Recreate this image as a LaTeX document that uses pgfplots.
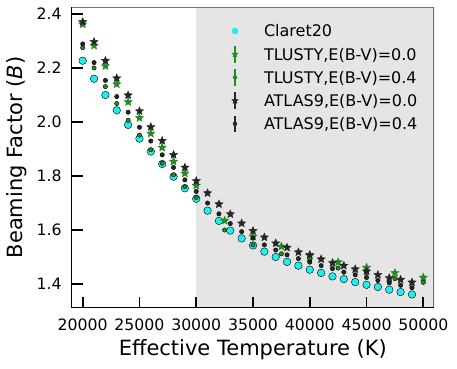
\documentclass[border=0pt]{standalone}
\usepackage{fontspec}
\setmainfont{DejaVu Sans}
\usepackage{pgfplots}
\pgfplotsset{compat=1.18}
\definecolor{cyanc}{RGB}{30,238,238}
\definecolor{fgreen}{RGB}{34,139,34}
\definecolor{dk}{RGB}{38,38,38}
\definecolor{bgshade}{RGB}{229,229,229}
\pgfdeclareplotmark{fstar}{%
  \pgfpathmoveto{\pgfqpointpolar{90}{\pgfplotmarksize}}%
  \pgfpathlineto{\pgfqpointpolar{126}{0.45\pgfplotmarksize}}%
  \pgfpathlineto{\pgfqpointpolar{162}{\pgfplotmarksize}}%
  \pgfpathlineto{\pgfqpointpolar{198}{0.45\pgfplotmarksize}}%
  \pgfpathlineto{\pgfqpointpolar{234}{\pgfplotmarksize}}%
  \pgfpathlineto{\pgfqpointpolar{270}{0.45\pgfplotmarksize}}%
  \pgfpathlineto{\pgfqpointpolar{306}{\pgfplotmarksize}}%
  \pgfpathlineto{\pgfqpointpolar{342}{0.45\pgfplotmarksize}}%
  \pgfpathlineto{\pgfqpointpolar{18}{\pgfplotmarksize}}%
  \pgfpathlineto{\pgfqpointpolar{54}{0.45\pgfplotmarksize}}%
  \pgfpathclose
  \pgfusepathqfillstroke}
\begin{document}
\begin{tikzpicture}
\useasboundingbox (-71.7pt,-60.3pt) rectangle (385.3pt,307.7pt);
\begin{axis}[
  at={(0,0)}, anchor=south west,
  scale only axis, width=362.3pt, height=300.4pt,
  xmin=19031, xmax=50942, ymin=1.311, ymax=2.425,
  axis on top,
  axis x line*=bottom, axis y line*=left,
  axis line style={black, line width=1.1pt},
  xtick={20000,25000,30000,35000,40000,45000,50000},
  ytick={1.4,1.6,1.8,2.0,2.2,2.4},
  scaled x ticks=false,
  xticklabel style={/pgf/number format/1000 sep={}},
  yticklabel style={/pgf/number format/fixed, /pgf/number format/fixed zerofill, /pgf/number format/precision=1},
  /pgf/number format/assume math mode=true,
  tick label style={font=\fontsize{15.7}{18}\selectfont},
  x tick label style={anchor=base, inner sep=0pt, yshift=-22.3pt},
  y tick label style={anchor=east, inner sep=0pt, xshift=-10pt},
  tick pos=left, tick align=inside, major tick length=11pt,
  every tick/.style={black, line width=1.8pt},
  xlabel={Effective Temperature (K)},
  ylabel={Beaming Factor (\textit{B})},
  label style={font=\fontsize{21}{25}\selectfont},
  x label style={at={(rel axis cs:0.5,0)}, anchor=base, yshift=-47.3pt},
  y label style={at={(rel axis cs:0,0.5)}, anchor=base, yshift=49.2pt},
  legend cell align=left,
  legend style={at={(rel axis cs:0,1)}, anchor=north west, xshift=154.8pt, yshift=-13.9pt,
    draw=none, fill=none, inner sep=0pt, outer sep=0pt, row sep=3.6pt, column sep=0pt,
    font=\fontsize{16}{19}\selectfont,
    nodes={inner sep=0pt, text height=15.6pt, text depth=4pt}},
]
\fill[bgshade] (axis cs:30000,1.311) rectangle (axis cs:50942,2.425);
\draw[black!55, line width=1.1pt] (rel axis cs:0,1) -- (rel axis cs:1,1) -- (rel axis cs:1,0);

\addplot[only marks, mark=*, mark size=3.8pt, mark options={fill=cyanc, draw=none},
  legend image code/.code={\path[draw=none] (0pt,0pt) -- (37.5pt,0pt);
    \fill[cyanc] (8.5pt,0pt) circle (3pt);}]
table {
x y
20000 2.227
21000 2.160
22000 2.100
23000 2.043
24000 1.989
25000 1.938
26000 1.890
27000 1.844
28000 1.797
29000 1.754
30000 1.715
31000 1.671
32000 1.633
33000 1.597
34000 1.568
35000 1.542
36000 1.519
37000 1.499
38000 1.481
39000 1.467
40000 1.452
41000 1.440
42000 1.427
43000 1.417
44000 1.406
45000 1.396
46000 1.388
47000 1.378
48000 1.369
49000 1.360
};
\addlegendentry{Claret20}

\addplot[only marks, mark=fstar, mark size=4.3pt, mark options={fill=fgreen, draw=fgreen, line width=0.4pt},
  legend image code/.code={\path[draw=none] (0pt,0pt) -- (37.5pt,0pt);
    \draw[fgreen, line width=1.2pt] (8.5pt,-8.3pt) -- (8.5pt,8.3pt);
    \draw[fgreen, fill=fgreen, line width=0.4pt] plot[mark=fstar, mark size=3.4pt, only marks] coordinates {(8.5pt,0pt)};}]
table {
x y
20000 2.362
21000 2.283
22000 2.207
23000 2.140
24000 2.074
25000 2.015
26000 1.957
27000 1.905
28000 1.853
29000 1.809
30000 1.764
32500 1.634
35000 1.575
37500 1.538
40000 1.504
42500 1.480
45000 1.460
47500 1.440
50000 1.423
};
\addlegendentry{TLUSTY,E(B-V)=0.0}

\addplot[only marks, mark=*, mark size=2.2pt, mark options={fill=fgreen, draw=none},
  legend image code/.code={\path[draw=none] (0pt,0pt) -- (37.5pt,0pt);
    \draw[fgreen, line width=1.2pt] (8.5pt,-8.3pt) -- (8.5pt,8.3pt);
    \fill[fgreen] (8.5pt,0pt) circle (2pt);}]
table {
x y
20000 2.275
21000 2.200
22000 2.131
23000 2.068
24000 2.006
25000 1.951
26000 1.897
27000 1.847
28000 1.804
29000 1.760
30000 1.720
32500 1.599
35000 1.544
37500 1.511
40000 1.485
42500 1.458
45000 1.442
47500 1.419
50000 1.405
};
\addlegendentry{TLUSTY,E(B-V)=0.4}

\addplot[only marks, mark=fstar, mark size=4.3pt, mark options={fill=dk, draw=dk, line width=0.4pt},
  legend image code/.code={\path[draw=none] (0pt,0pt) -- (37.5pt,0pt);
    \draw[dk, line width=1.2pt] (8.5pt,-8.3pt) -- (8.5pt,8.3pt);
    \draw[dk, fill=dk, line width=0.4pt] plot[mark=fstar, mark size=3.4pt, only marks] coordinates {(8.5pt,0pt)};}]
table {
x y
20000 2.371
21000 2.297
22000 2.227
23000 2.162
24000 2.099
25000 2.040
26000 1.981
27000 1.930
28000 1.878
29000 1.831
30000 1.781
31000 1.736
32000 1.695
33000 1.658
34000 1.624
35000 1.596
36000 1.572
37000 1.550
38000 1.534
39000 1.517
40000 1.507
41000 1.491
42000 1.477
43000 1.467
44000 1.454
45000 1.446
46000 1.433
47000 1.421
48000 1.415
49000 1.405
};
\addlegendentry{ATLAS9,E(B-V)=0.0}

\addplot[only marks, mark=*, mark size=2.2pt, mark options={fill=dk, draw=none},
  legend image code/.code={\path[draw=none] (0pt,0pt) -- (37.5pt,0pt);
    \draw[dk, line width=1.2pt] (8.5pt,-8.3pt) -- (8.5pt,8.3pt);
    \fill[dk] (8.5pt,0pt) circle (2pt);}]
table {
x y
20000 2.289
21000 2.220
22000 2.154
23000 2.094
24000 2.036
25000 1.980
26000 1.929
27000 1.878
28000 1.831
29000 1.785
30000 1.742
31000 1.699
32000 1.659
33000 1.623
34000 1.593
35000 1.569
36000 1.544
37000 1.525
38000 1.507
39000 1.493
40000 1.480
41000 1.467
42000 1.456
43000 1.443
44000 1.433
45000 1.423
46000 1.412
47000 1.403
48000 1.394
49000 1.385
};
\addlegendentry{ATLAS9,E(B-V)=0.4}
\end{axis}
\end{tikzpicture}
\end{document}
